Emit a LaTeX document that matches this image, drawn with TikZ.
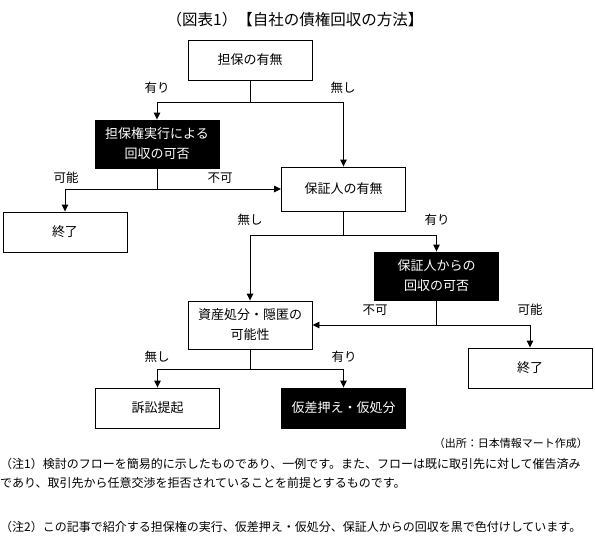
\documentclass[tikz,border=0pt]{standalone}
\usepackage{fontspec}
\setmainfont{Noto Sans CJK JP}
\usetikzlibrary{arrows.meta}
\begin{document}
\begin{tikzpicture}[x=1pt,y=-1pt,
  box/.style={draw=black, line width=0.9pt, minimum width=124pt, inner sep=0pt, align=center, font=\fontsize{13}{20}\selectfont},
  blackbox/.style={box, fill=black, text=white},
  lbl/.style={font=\fontsize{12.5}{14}\selectfont, inner sep=0pt},
  conn/.style={line width=0.9pt},
  arr/.style={conn, -{Triangle[length=7pt,width=6.5pt]}},
  note/.style={anchor=west, inner sep=0pt, font=\fontsize{12}{14}\selectfont}]
\useasboundingbox (0,0) rectangle (595,549);
\node[font=\fontsize{15.5}{18}\selectfont] (title) at (295,20) {（図表1）【自社の債権回収の方法】};
\node[box, minimum height=40pt] (b1) at (250,60) {担保の有無};
\node[blackbox, minimum height=48pt] (b2) at (157,144) {担保権実行による\\回収の可否};
\node[box, minimum height=44pt] (b3) at (343.5,189) {保証人の有無};
\node[box, minimum height=40pt] (b4) at (65,232) {終了};
\node[blackbox, minimum height=48pt] (b5) at (436.5,276) {保証人からの\\回収の可否};
\node[box, minimum height=48pt] (b6) at (250,325) {資産処分・隠匿の\\可能性};
\node[box, minimum height=40pt] (b7) at (530,368) {終了};
\node[box, minimum height=40pt] (b8) at (157.5,408) {訴訟提起};
\node[blackbox, minimum height=40pt] (b9) at (343.5,408) {仮差押え・仮処分};
\coordinate (j1) at (250,102);
\coordinate (j2) at (157,189);
\coordinate (j3) at (343.5,235);
\coordinate (j4) at (436.5,325);
\coordinate (j5) at (250,369);
\draw[conn] (b1) -- (j1);
\draw[arr] (j1) -| (b2);
\draw[arr] (j1) -| (b3);
\draw[conn] (b2) -- (j2);
\draw[arr] (j2) -- (b3);
\draw[arr] (j2) -| (b4);
\draw[conn] (b3) -- (j3);
\draw[arr] (j3) -| (b6);
\draw[arr] (j3) -| (b5);
\draw[conn] (b5) -- (j4);
\draw[arr] (j4) -- (b6);
\draw[arr] (j4) -| (b7);
\draw[conn] (b6) -- (j5);
\draw[arr] (j5) -| (b8);
\draw[arr] (j5) -| (b9);
\node[lbl] (l1) at (157,88) {有り};
\node[lbl] (l2) at (343,88) {無し};
\node[lbl] (l3) at (66,178) {可能};
\node[lbl] (l4) at (220,178) {不可};
\node[lbl] (l5) at (250,220) {無し};
\node[lbl] (l6) at (437,220) {有り};
\node[lbl] (l7) at (375,310) {不可};
\node[lbl] (l8) at (530,310) {可能};
\node[lbl] (l9) at (157,357) {無し};
\node[lbl] (l10) at (344,357) {有り};
\node[anchor=east, inner sep=0pt, font=\fontsize{11}{13}\selectfont] (src) at (588,443) {（出所：日本情報マート作成）};
\node[note] (n1a) at (0,464) {（注1）検討のフローを簡易的に示したものであり、一例です。また、フローは既に取引先に対して催告済み};
\node[note] (n1b) at (0,483) {であり、取引先から任意交渉を拒否されていることを前提とするものです。};
\node[note] (n2) at (0,527) {（注2）この記事で紹介する担保権の実行、仮差押え・仮処分、保証人からの回収を黒で色付けしています。};
\end{tikzpicture}
\end{document}
